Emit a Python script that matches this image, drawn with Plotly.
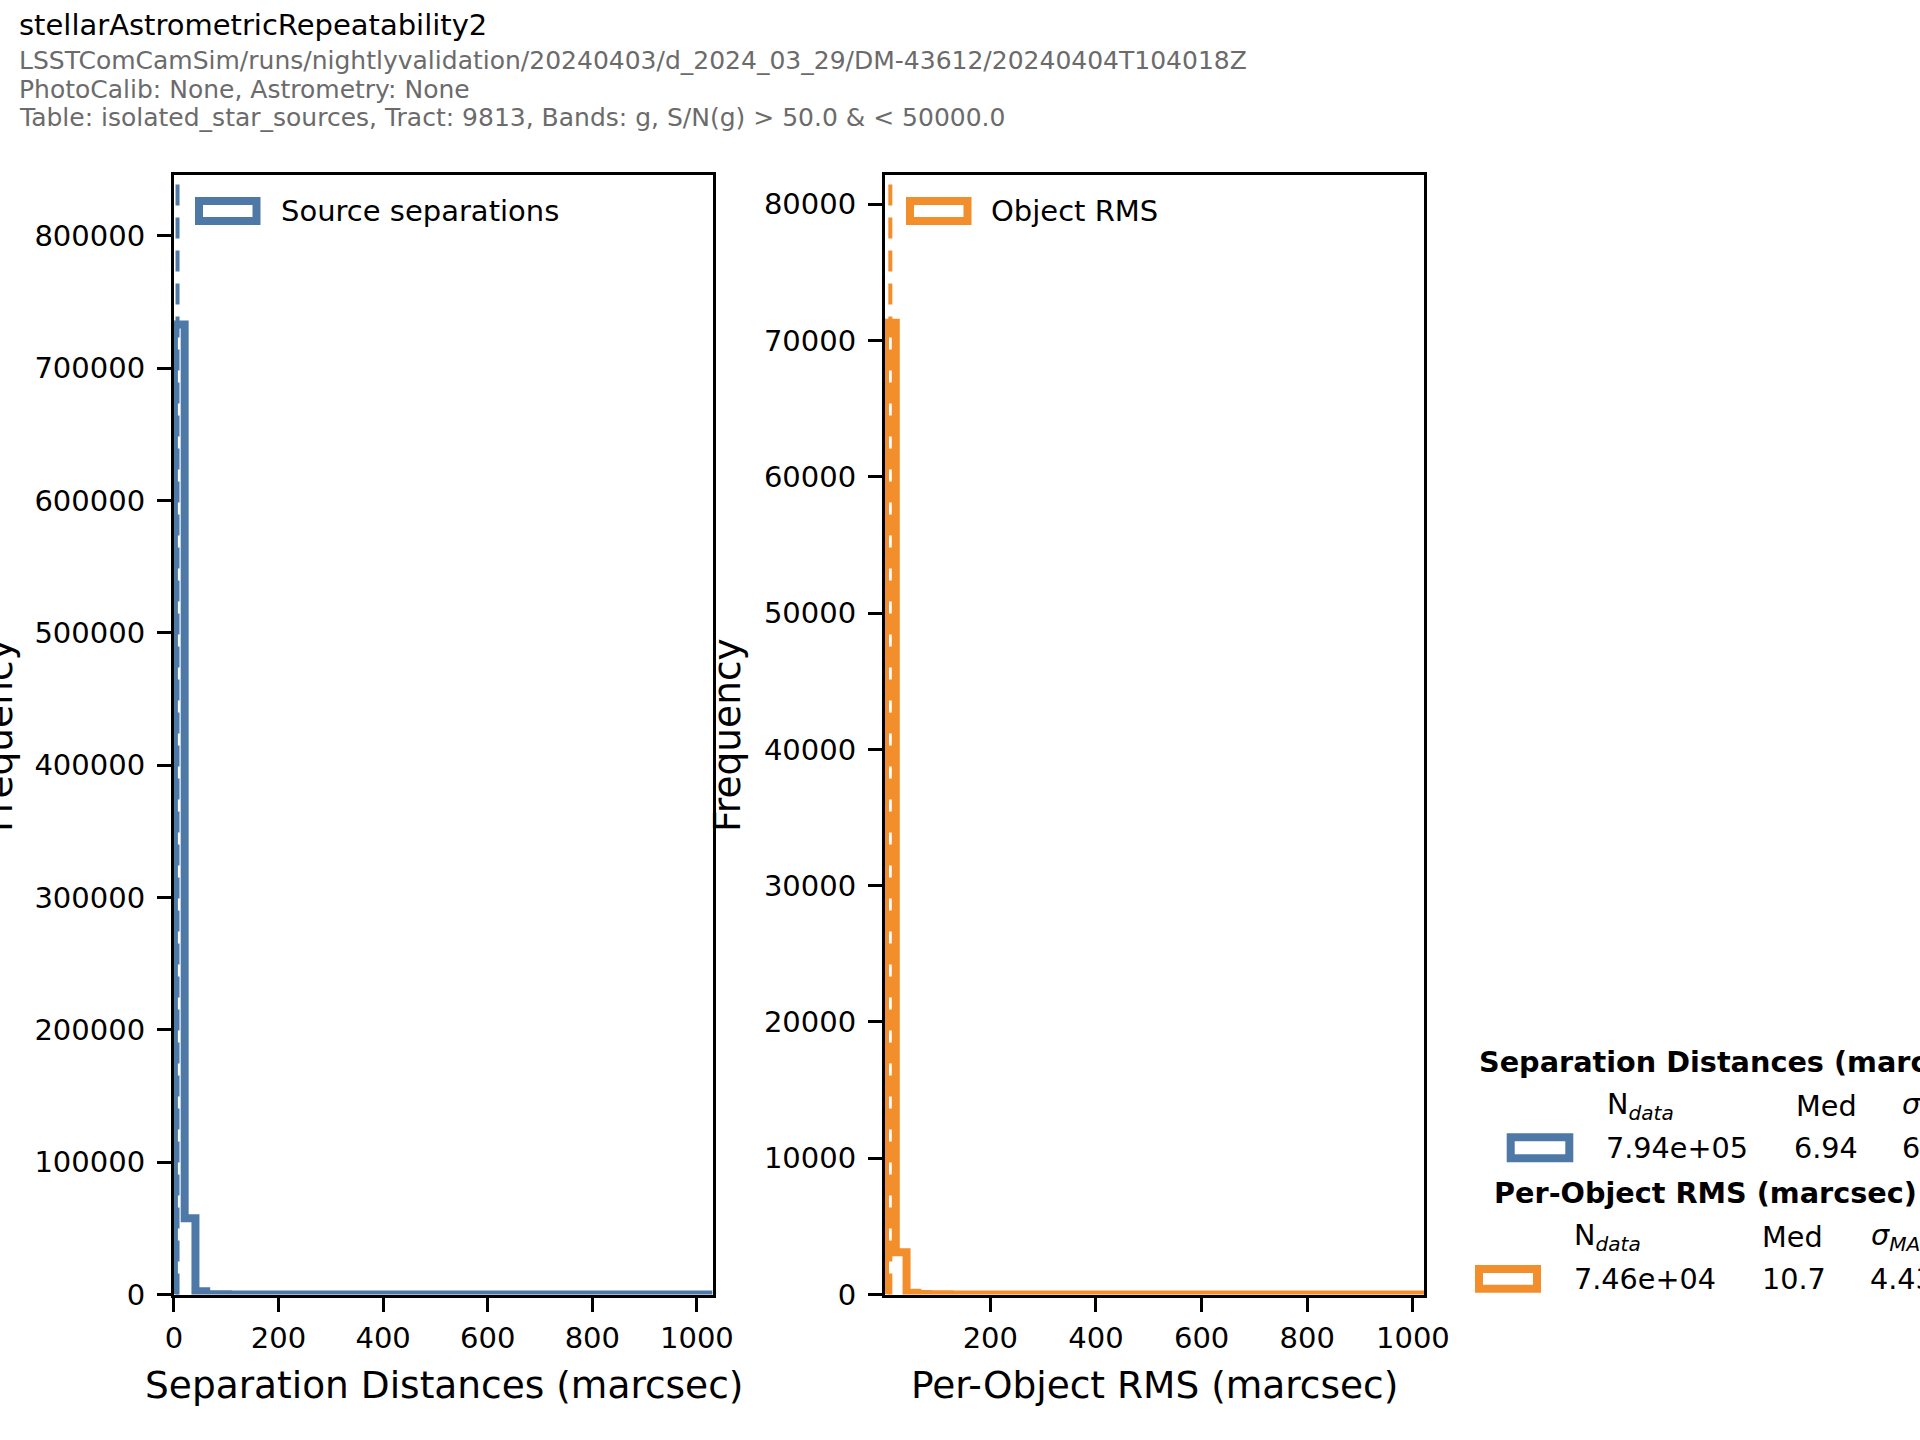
import plotly.graph_objects as go

W, H = 1920, 1440

# ---------------- data ----------------
SEP_RANGE = [0.0, 1030.0]          # histogram range (marcsec)
SEP_COUNTS = [733000, 57700, 2500, 250, 120, 80, 60, 45, 35, 28,
              22, 18, 15, 12, 10, 9, 8, 7, 6, 6,
              5, 5, 4, 4, 4, 3, 3, 3, 3, 2,
              2, 2, 2, 2, 2, 1, 1, 1, 1, 1,
              1, 1, 1, 1, 1, 1, 1, 1, 1, 1]
SEP_MEDIAN = 6.94

RMS_RANGE = [0.6, 1021.0]
RMS_COUNTS = [71300, 3100, 120, 30, 15, 10, 6, 5, 4, 3,
              3, 2, 2, 2, 1, 1, 1, 1, 1, 1,
              1, 1, 1, 1, 1, 1, 1, 1, 1, 1,
              1, 1, 1, 1, 1, 1, 1, 1, 1, 1,
              1, 1, 1, 1, 1, 1, 1, 1, 1, 1]
RMS_MEDIAN = 10.7

LEFT_XRANGE = [0, 1030]
RIGHT_XRANGE = [0.6, 1021]
LEFT_YRANGE = [0, 846000]
RIGHT_YRANGE = [0, 82150]

LEFT_XTICKS = [0, 200, 400, 600, 800, 1000]
RIGHT_XTICKS = [200, 400, 600, 800, 1000]
LEFT_YTICKS = [0, 100000, 200000, 300000, 400000, 500000, 600000, 700000, 800000]
RIGHT_YTICKS = [0, 10000, 20000, 30000, 40000, 50000, 60000, 70000, 80000]

TITLE = "stellarAstrometricRepeatability2"
SUBTITLES = [
    "LSSTComCamSim/runs/nightlyvalidation/20240403/d_2024_03_29/DM-43612/20240404T104018Z",
    "PhotoCalib: None, Astrometry: None",
    "Table: isolated_star_sources, Tract: 9813, Bands: g, S/N(g) > 50.0 & < 50000.0",
]
LEFT_XLABEL = "Separation Distances (marcsec)"
RIGHT_XLABEL = "Per-Object RMS (marcsec)"
YLABEL = "Frequency"
LEFT_LEGEND = "Source separations"
RIGHT_LEGEND = "Object RMS"

STATS_SEP = dict(title="Separation Distances (marcsec)", n="7.94e+05", med="6.94", sig="6.05")
STATS_RMS = dict(title="Per-Object RMS (marcsec)", n="7.46e+04", med="10.7", sig="4.43")

BLUE = "#4e79a7"
ORANGE = "#f28e2b"
FONT = "DejaVu Sans"


def px(x):
    return x / W


def py(y):
    return 1 - y / H


def step_xy(rng, counts):
    n = len(counts)
    w = (rng[1] - rng[0]) / n
    edges = [rng[0] + i * w for i in range(n + 1)]
    xs = [edges[0]] + edges[:-1] + [edges[-1], edges[-1]]
    ys = [0] + list(counts) + [counts[-1], 0]
    return xs, ys


fig = go.Figure()
xs, ys = step_xy(SEP_RANGE, SEP_COUNTS)
fig.add_trace(go.Scatter(x=xs, y=ys, mode="lines", line=dict(color=BLUE, width=8, shape="hv"),
                         xaxis="x", yaxis="y", showlegend=False, hoverinfo="skip"))
xs, ys = step_xy(RMS_RANGE, RMS_COUNTS)
fig.add_trace(go.Scatter(x=xs, y=ys, mode="lines", line=dict(color=ORANGE, width=8, shape="hv"),
                         xaxis="x2", yaxis="y2", showlegend=False, hoverinfo="skip"))

ax_common = dict(showline=True, linecolor="black", linewidth=3, mirror=True,
                 ticks="outside", ticklen=14, tickwidth=3, tickcolor="black",
                 showgrid=False, zeroline=False, automargin=False,
                 tickfont=dict(family=FONT, size=29, color="black"))

yd = [py(1294.5), py(175.0)]
fig.update_layout(
    width=W, height=H,
    margin=dict(l=0, r=0, t=0, b=0),
    paper_bgcolor="white", plot_bgcolor="white",
    hovermode=False,
    xaxis=dict(domain=[px(173.9), px(712.6)], range=LEFT_XRANGE, anchor="y",
               tickvals=LEFT_XTICKS, ticktext=[str(v) for v in LEFT_XTICKS],
               ticklabelstandoff=2, **ax_common),
    yaxis=dict(domain=yd, range=LEFT_YRANGE, anchor="x",
               tickvals=LEFT_YTICKS, ticktext=[str(v) for v in LEFT_YTICKS],
               ticklabelstandoff=6, **ax_common),
    xaxis2=dict(domain=[px(885.0), px(1424.0)], range=RIGHT_XRANGE, anchor="y2",
                tickvals=RIGHT_XTICKS, ticktext=[str(v) for v in RIGHT_XTICKS],
                ticklabelstandoff=2, **ax_common),
    yaxis2=dict(domain=yd, range=RIGHT_YRANGE, anchor="x2",
                tickvals=RIGHT_YTICKS, ticktext=[str(v) for v in RIGHT_YTICKS],
                ticklabelstandoff=6, **ax_common),
)

shapes = []
# median lines
shapes.append(dict(type="line", xref="x", yref="y domain", x0=SEP_MEDIAN, x1=SEP_MEDIAN, y0=0, y1=1,
                   line=dict(color=BLUE, width=4, dash="21px,12px")))
shapes.append(dict(type="line", xref="x2", yref="y2 domain", x0=RMS_MEDIAN, x1=RMS_MEDIAN, y0=0, y1=1,
                   line=dict(color=ORANGE, width=4, dash="21px,12px")))


def patch(x0, y0, x1, y1, color):
    return dict(type="rect", xref="paper", yref="paper", x0=px(x0), x1=px(x1), y0=py(y1), y1=py(y0),
                line=dict(color=color, width=8), fillcolor="white", layer="above")


shapes.append(patch(199, 201, 256.5, 221, BLUE))
shapes.append(patch(910, 201, 967.5, 221, ORANGE))
shapes.append(patch(1510.7, 1137.3, 1569.3, 1158.3, BLUE))
shapes.append(patch(1479, 1269, 1537, 1288.7, ORANGE))
fig.update_layout(shapes=shapes)

ann = []


def text(x, y, s, size, color="black", xanchor="left", bold=False, angle=0):
    if bold:
        s = "<b>" + s + "</b>"
    if xanchor == "left":
        x = x - 3
    ann.append(dict(xref="paper", yref="paper", x=px(x), y=py(y), text=s, showarrow=False,
                    xanchor=xanchor, yanchor="middle", textangle=angle,
                    font=dict(family=FONT, size=size, color=color)))


text(20, 25, TITLE, 29)
for i, s in enumerate(SUBTITLES):
    text(20, 61 + i * 28.3, s, 25, color="#6b6b6b")

text(443.5, 1385, LEFT_XLABEL, 37.5, xanchor="center")
text(1154, 1385, RIGHT_XLABEL, 37.5, xanchor="center")
text(-1, 735, YLABEL, 37.5, xanchor="center", angle=-90)
text(727, 735, YLABEL, 37.5, xanchor="center", angle=-90)

text(281.6, 211, LEFT_LEGEND, 29)
text(991.8, 211, RIGHT_LEGEND, 29)

ndata = "N<sub><i>data</i></sub>"
sigma = "<i>σ</i><sub><i>MAD</i></sub>"
SZ = 28.7
# stats block 1
text(1480, 1062, STATS_SEP["title"], SZ, bold=True)
text(1608, 1106, ndata, SZ)
text(1796.5, 1106, "Med", SZ)
text(1903, 1106, sigma, SZ)
text(1606.5, 1148, STATS_SEP["n"], SZ)
text(1795, 1148, STATS_SEP["med"], SZ)
text(1903, 1148, STATS_SEP["sig"], SZ)
# stats block 2
text(1495, 1193, STATS_RMS["title"], SZ, bold=True)
text(1575, 1237, ndata, SZ)
text(1763, 1237, "Med", SZ)
text(1871.5, 1237, sigma, SZ)
text(1575, 1279, STATS_RMS["n"], SZ)
text(1762.5, 1279, STATS_RMS["med"], SZ)
text(1870.5, 1279, STATS_RMS["sig"], SZ)

fig.update_layout(annotations=ann)
fig.write_html("out.html", config={"displayModeBar": False},
               post_script="document.body.style.margin='0';")
